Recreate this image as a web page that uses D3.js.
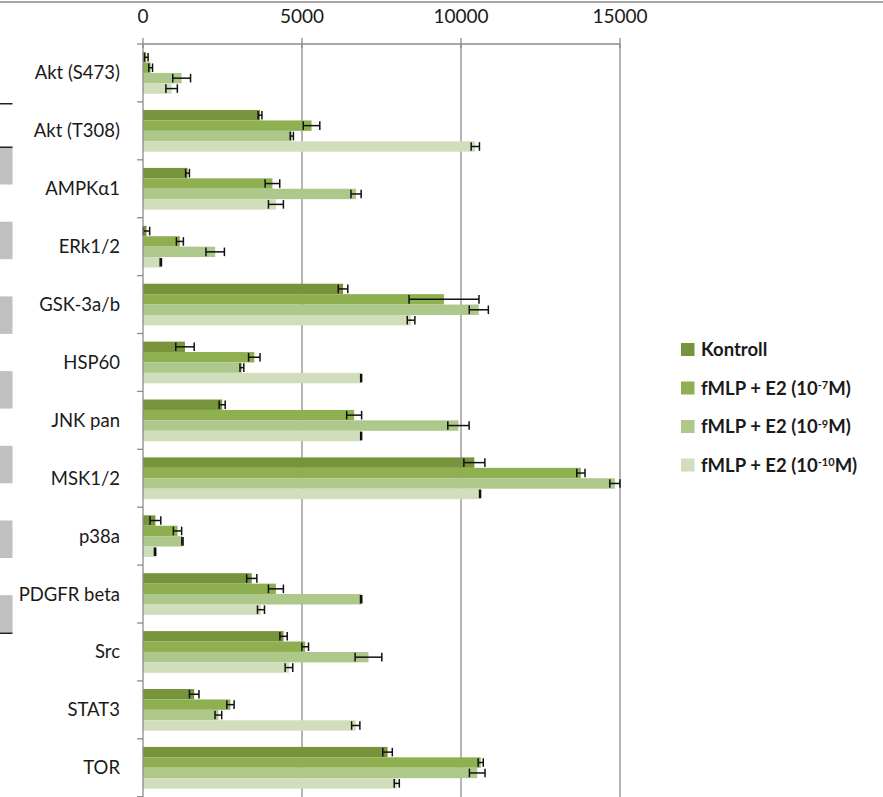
<!DOCTYPE html>
<html>
<head>
<meta charset="utf-8">
<script src="https://cdn.jsdelivr.net/npm/d3@7"></script>
<style>
  html, body { margin: 0; padding: 0; background: #fff; }
  svg { display: block; }
  text { font-family: Lato, "Open Sans", sans-serif; fill: #1a1a1a; }
</style>
</head>
<body>
<svg id="chart" width="883" height="797"></svg>
<script>
// Protein targets (one group of four bars each)
const categories = ["Akt (S473)", "Akt (T308)", "AMPKα1", "ERk1/2", "GSK-3a/b", "HSP60",
  "JNK pan", "MSK1/2", "p38a", "PDGFR beta", "Src", "STAT3", "TOR"];

// Mean signal per treatment
const kontroll = [100, 3680, 1400, 110, 6290, 1320, 2490, 10420, 390, 3420, 4420, 1610, 7690];
const e2_7     = [240, 5300, 4070, 1160, 9466, 3500, 6640, 13770, 1085, 4180, 5100, 2750, 10620];
const e2_9     = [1215, 4680, 6700, 2270, 10560, 3110, 9920, 14840, 1240, 6860, 7090, 2370, 10510];
const e2_10    = [900, 10450, 4180, 560, 8430, 6860, 6860, 10600, 380, 3710, 4590, 6690, 7980];

// Error (± half-range) per treatment
const kontrollErr = [60, 60, 60, 100, 150, 290, 95, 330, 170, 160, 115, 150, 150];
const e2_7Err     = [60, 260, 230, 110, 1100, 180, 235, 130, 130, 235, 105, 115, 80];
const e2_9Err     = [280, 50, 160, 290, 300, 60, 335, 160, 20, 20, 420, 105, 245];
const e2_10Err    = [180, 130, 235, 20, 120, 15, 15, 15, 20, 110, 120, 130, 80];

// Legend text: prefix, superscript exponent, suffix
const legendPrefix = ["Kontroll", "fMLP + E2 (10", "fMLP + E2 (10", "fMLP + E2 (10"];
const legendExp    = ["", "-7", "-9", "-10"];
const legendSuffix = ["", "M)", "M)", "M)"];

const xTicks = [0, 5000, 10000, 15000];
const colors = ["#77933C", "#8FB050", "#AEC78A", "#D1DEBB"];

const series = [
  { values: kontroll, errs: kontrollErr },
  { values: e2_7, errs: e2_7Err },
  { values: e2_9, errs: e2_9Err },
  { values: e2_10, errs: e2_10Err }
];

const svg = d3.select("#chart");

// page frame: top rule and the edge of the neighbouring panel on the left
svg.append("rect").attr("x", 0).attr("y", 1).attr("width", 883).attr("height", 2).attr("fill", "#a8a8a8");
const stripes = svg.append("g");
for (let i = 0; i < 7; i++) {
  stripes.append("rect").attr("x", 0).attr("y", 147 + i * 74.7)
    .attr("width", 12.5).attr("height", 37.5).attr("fill", "#c0c0c0");
}
stripes.append("rect").attr("x", 0).attr("y", 103).attr("width", 12.5).attr("height", 1.5).attr("fill", "#222");
stripes.append("rect").attr("x", 0).attr("y", 146.5).attr("width", 12.5).attr("height", 1.5).attr("fill", "#222");
stripes.append("rect").attr("x", 0).attr("y", 632.5).attr("width", 12.5).attr("height", 1.5).attr("fill", "#222");

const plotTop = 44, bandH = 57.9;
const x = d3.scaleLinear().domain([0, 15000]).range([143, 620]);
const y = d3.scaleBand().domain(categories).range([plotTop, plotTop + bandH * categories.length]).padding(0);
const ys = d3.scaleBand().domain(d3.range(series.length))
  .range([y.bandwidth() * 0.14, y.bandwidth() * 0.86]).padding(0);

// vertical gridlines
svg.append("g").selectAll("line").data(xTicks.slice(1)).join("line")
  .attr("x1", d => x(d)).attr("x2", d => x(d))
  .attr("y1", plotTop).attr("y2", 797)
  .attr("stroke", "#8c8c8c").attr("stroke-width", 1.3);

// bars
const groups = svg.append("g").selectAll("g").data(categories).join("g")
  .attr("transform", d => `translate(0,${y(d)})`);

series.forEach((s, si) => {
  groups.append("rect")
    .attr("x", x(0))
    .attr("y", ys(si))
    .attr("width", (d, i) => x(s.values[i]) - x(0))
    .attr("height", ys.bandwidth())
    .attr("fill", colors[si]);
});

// error bars
series.forEach((s, si) => {
  const cy = ys(si) + ys.bandwidth() / 2;
  const cap = 4.3;
  const eb = groups.append("g").attr("stroke", "#111").attr("stroke-width", 1.5).attr("fill", "none");
  eb.append("line")
    .attr("x1", (d, i) => x(s.values[i] - s.errs[i]))
    .attr("x2", (d, i) => x(s.values[i] + s.errs[i]))
    .attr("y1", cy).attr("y2", cy);
  eb.append("line")
    .attr("x1", (d, i) => x(s.values[i] - s.errs[i]))
    .attr("x2", (d, i) => x(s.values[i] - s.errs[i]))
    .attr("y1", cy - cap).attr("y2", cy + cap);
  eb.append("line")
    .attr("x1", (d, i) => x(s.values[i] + s.errs[i]))
    .attr("x2", (d, i) => x(s.values[i] + s.errs[i]))
    .attr("y1", cy - cap).attr("y2", cy + cap);
});

// top value axis
const xAxis = svg.append("g").attr("transform", `translate(0,${plotTop})`);
xAxis.append("line").attr("x1", x(0)).attr("x2", x(15000)).attr("y1", 0).attr("y2", 0)
  .attr("stroke", "#8c8c8c").attr("stroke-width", 1.3);
xAxis.selectAll("line.tk").data(xTicks).join("line").attr("class", "tk")
  .attr("x1", d => x(d)).attr("x2", d => x(d)).attr("y1", -6).attr("y2", 4)
  .attr("stroke", "#8c8c8c").attr("stroke-width", 1.3);
xAxis.selectAll("text").data(xTicks).join("text")
  .attr("x", d => x(d)).attr("y", -21)
  .attr("text-anchor", "middle").attr("font-size", 19)
  .text(d => d);

// category axis on the left
const yAxis = svg.append("g");
yAxis.append("line").attr("x1", x(0)).attr("x2", x(0)).attr("y1", plotTop).attr("y2", 797)
  .attr("stroke", "#8c8c8c").attr("stroke-width", 1.3);
yAxis.selectAll("line.tk").data(d3.range(categories.length + 1)).join("line").attr("class", "tk")
  .attr("x1", x(0) - 6).attr("x2", x(0))
  .attr("y1", i => plotTop + i * bandH).attr("y2", i => plotTop + i * bandH)
  .attr("stroke", "#8c8c8c").attr("stroke-width", 1.3);
yAxis.selectAll("text").data(categories).join("text")
  .attr("x", 120).attr("y", d => y(d) + y.bandwidth() / 2)
  .attr("dy", "0.35em").attr("text-anchor", "end").attr("font-size", 18.5)
  .text(d => d);

// legend
const legend = svg.append("g");
legendPrefix.forEach((p, i) => {
  const ly = 349.5 + i * 38.5;
  legend.append("rect").attr("x", 681).attr("y", ly - 6.5).attr("width", 13.5).attr("height", 13)
    .attr("fill", colors[i]);
  const t = legend.append("text").attr("x", 701).attr("y", ly).attr("dy", "0.36em")
    .attr("font-size", 18.5).attr("font-weight", "bold");
  t.append("tspan").text(p);
  if (legendExp[i]) {
    t.append("tspan").attr("font-size", 11).attr("dy", "-0.5em").text(legendExp[i]);
    t.append("tspan").attr("dy", "0.3em").text(legendSuffix[i]);
  }
});
</script>
</body>
</html>
